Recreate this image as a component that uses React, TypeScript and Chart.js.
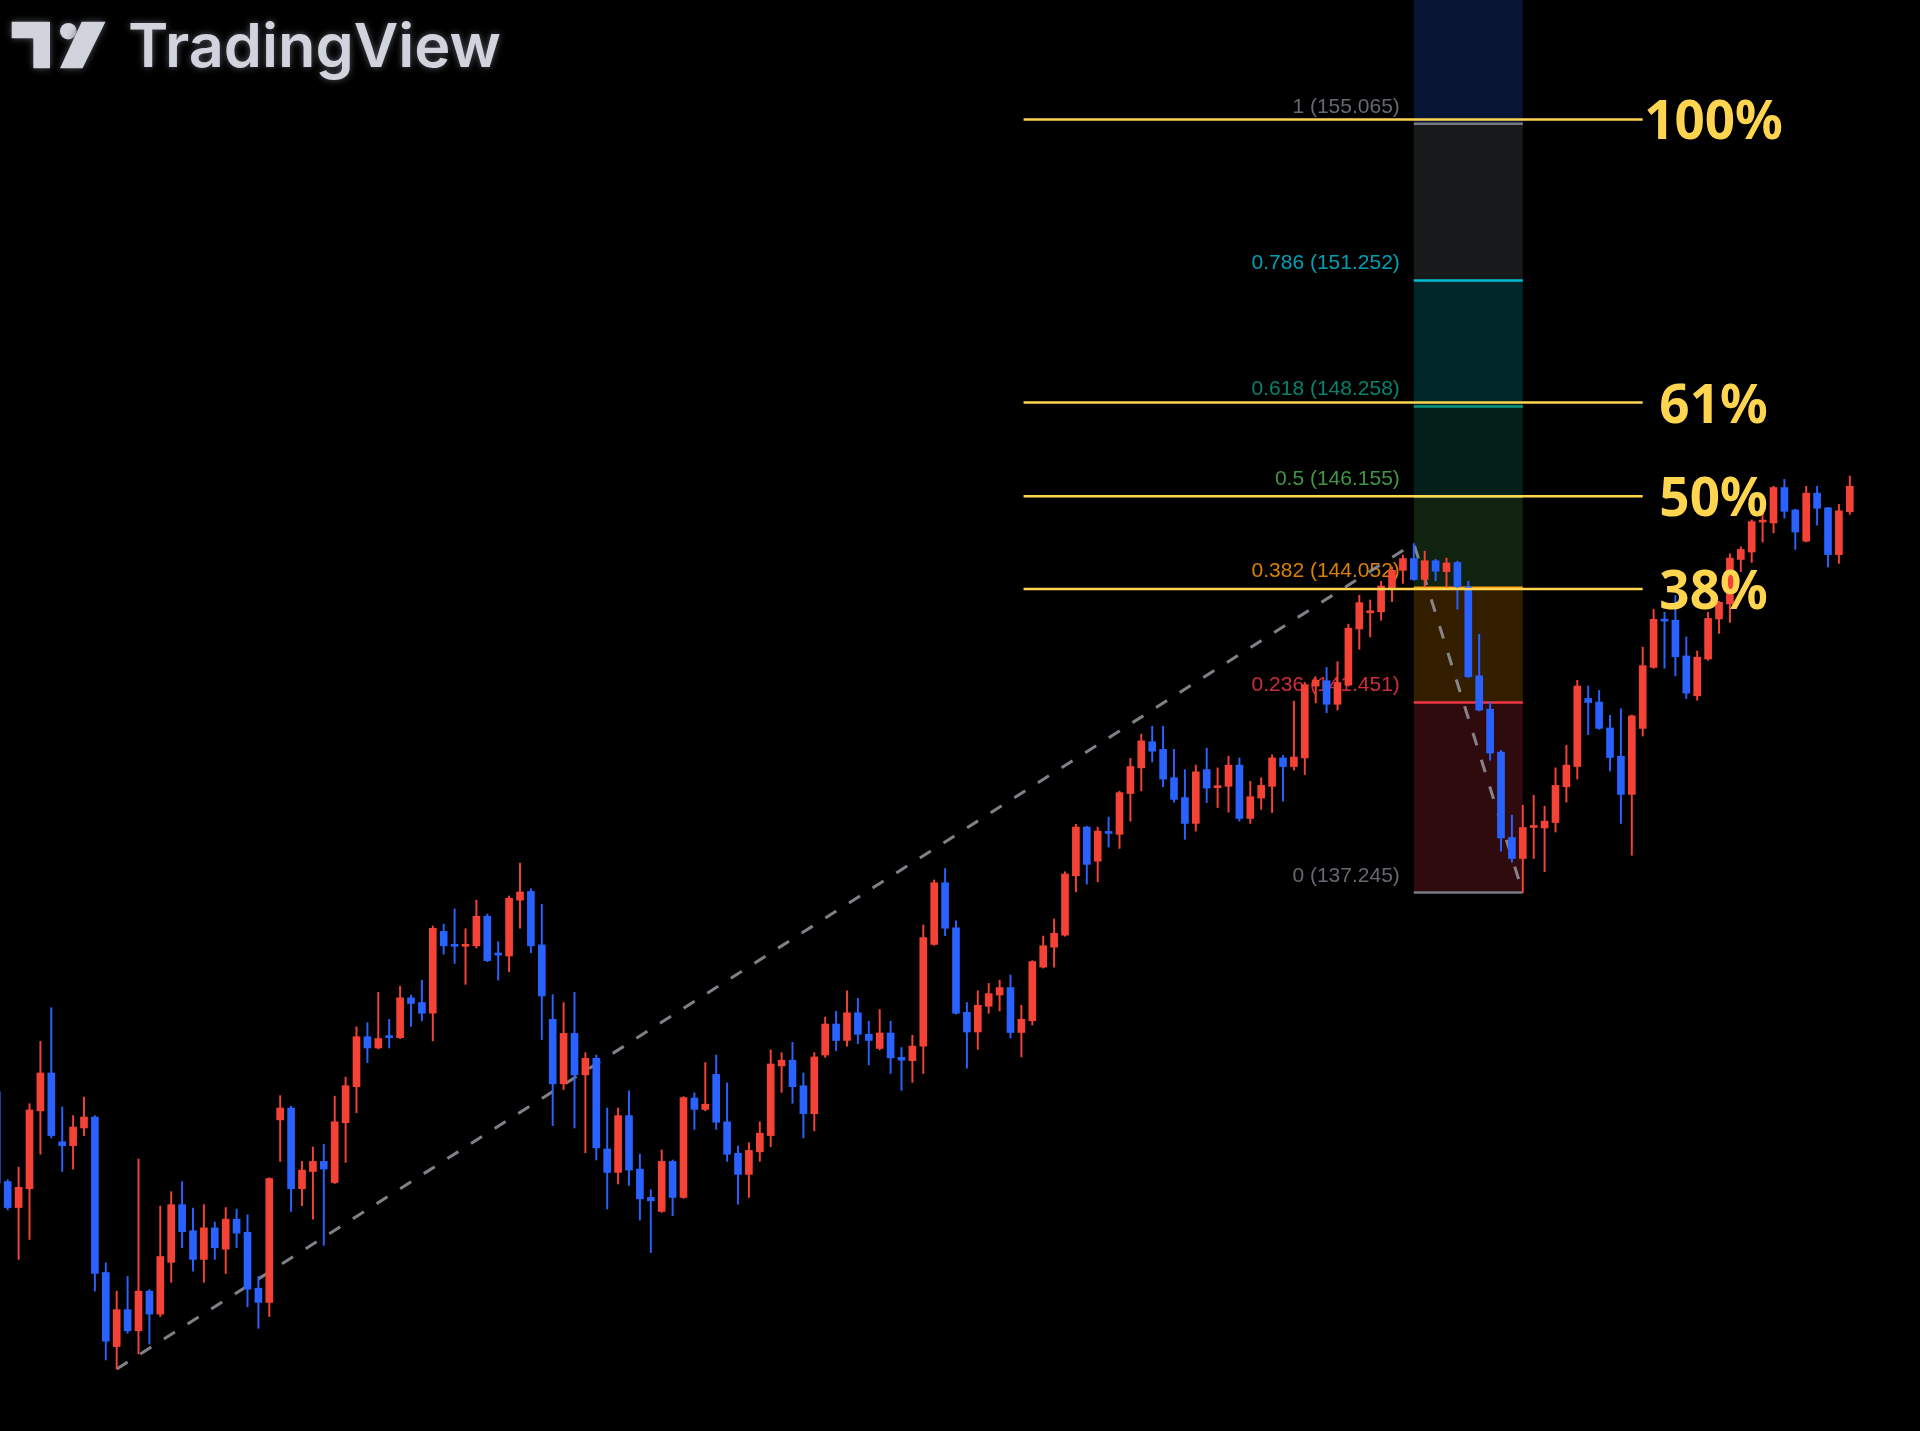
import React, { useEffect, useRef } from 'react';
import { Chart, registerables } from 'chart.js';

Chart.register(...registerables);

// ---- Candle data (price) ----
const opens = [
  132.97, 131.09, 130.55, 130.94, 132.57, 133.37, 131.92, 131.84, 132.21, 132.44,
  129.21, 127.70, 128.45, 128.02, 128.83, 128.36, 129.42, 130.61, 130.07, 129.48,
  130.13, 129.69, 130.31, 130.04, 128.89, 128.60, 132.38, 132.63, 130.94, 131.30,
  131.51, 131.07, 132.32, 133.08, 134.14, 133.90, 134.16, 134.12, 134.97, 134.87,
  134.64, 136.40, 136.11, 136.08, 136.09, 136.73, 135.92, 135.87, 137.08, 137.27,
  136.11, 134.51, 133.14, 134.21, 133.33, 133.68, 131.77, 131.28, 132.47, 131.35,
  130.76, 130.47, 131.51, 130.76, 132.84, 132.60, 133.34, 132.34, 131.68, 131.24,
  131.71, 132.05, 133.52, 133.64, 133.10, 132.51, 133.75, 134.41, 134.06, 134.65,
  134.19, 133.89, 134.22, 133.70, 133.63, 133.94, 136.12, 137.46, 136.48, 134.66,
  134.24, 134.79, 135.03, 135.19, 134.23, 134.48, 135.63, 136.06, 136.32, 137.61,
  138.68, 137.93, 138.57, 138.52, 139.42, 139.99, 140.57, 140.40, 139.77, 139.33,
  138.76, 139.95, 139.55, 139.58, 140.05, 138.87, 139.32, 139.58, 140.21, 140.02,
  140.21, 141.82, 141.94, 141.41, 141.84, 143.11, 143.48, 143.50, 144.04, 144.45,
  144.72, 144.24, 144.67, 144.42, 144.63, 144.07, 142.05, 141.30, 140.34, 138.45,
  137.99, 138.67, 138.66, 138.78, 139.57, 140.02, 141.54, 141.46, 140.88, 140.25,
  139.40, 140.87, 142.24, 143.33, 143.31, 142.50, 141.60, 142.43, 143.34, 143.68,
  144.70, 144.87, 145.56, 145.54, 146.36, 145.84, 145.12, 146.23, 145.89, 144.81,
  145.80,
];
const highs = [
  133.10, 131.13, 131.39, 132.72, 134.04, 134.76, 132.65, 132.47, 132.86, 132.47,
  129.41, 128.83, 129.13, 131.56, 128.86, 130.58, 130.88, 131.09, 130.54, 130.61,
  130.25, 130.55, 130.52, 130.40, 129.13, 131.17, 132.89, 132.67, 131.51, 131.81,
  131.87, 132.88, 133.28, 134.35, 134.44, 135.09, 134.51, 135.22, 135.03, 135.35,
  136.52, 136.56, 136.89, 136.46, 137.08, 136.78, 136.18, 137.17, 137.89, 137.33,
  136.99, 135.04, 134.87, 135.09, 133.80, 133.75, 132.63, 132.63, 132.99, 131.66,
  130.92, 131.75, 131.54, 132.87, 132.95, 133.59, 133.75, 133.16, 131.83, 131.90,
  132.34, 133.86, 133.80, 134.02, 133.37, 133.80, 134.56, 134.68, 135.12, 134.96,
  134.47, 134.72, 134.47, 133.91, 134.17, 136.54, 137.52, 137.77, 136.63, 134.87,
  135.12, 135.28, 135.35, 135.46, 134.81, 135.77, 136.30, 136.67, 137.70, 138.74,
  138.70, 138.68, 138.90, 139.47, 140.20, 140.74, 140.92, 140.92, 140.40, 139.95,
  140.05, 140.43, 139.99, 140.25, 140.21, 139.69, 139.77, 140.28, 140.27, 141.48,
  141.90, 142.00, 142.24, 142.37, 143.22, 143.88, 143.77, 144.20, 144.53, 144.80,
  145.065, 144.89, 144.70, 144.73, 144.66, 144.20, 142.99, 141.46, 140.38, 138.94,
  139.16, 139.38, 139.14, 139.99, 140.49, 141.95, 141.82, 141.72, 141.16, 141.31,
  141.17, 142.70, 143.56, 143.49, 143.87, 142.93, 142.61, 143.49, 143.74, 144.83,
  144.99, 145.61, 145.80, 146.39, 146.55, 145.86, 146.39, 146.39, 145.90, 145.97,
  146.63,
];
const lows = [
  130.71, 130.50, 129.48, 129.89, 131.66, 132.00, 131.30, 131.35, 132.05, 128.83,
  127.43, 127.245, 127.97, 127.55, 127.75, 128.31, 129.01, 129.72, 129.24, 129.01,
  129.48, 129.19, 129.72, 128.51, 128.07, 128.31, 131.51, 130.47, 130.59, 130.31,
  129.77, 131.05, 131.49, 132.53, 133.59, 133.88, 133.90, 134.10, 134.36, 134.48,
  134.05, 135.91, 135.71, 135.26, 136.04, 135.75, 135.35, 135.53, 136.47, 135.94,
  134.08, 132.26, 133.02, 132.21, 131.69, 131.54, 130.52, 131.04, 131.01, 130.29,
  129.62, 130.45, 130.38, 130.74, 132.18, 132.57, 132.18, 131.51, 130.62, 130.76,
  131.51, 131.82, 132.96, 132.73, 132.00, 132.15, 133.70, 133.84, 133.94, 133.99,
  133.54, 133.86, 133.36, 133.00, 133.17, 133.36, 136.10, 136.31, 134.62, 133.47,
  133.87, 134.64, 134.69, 134.11, 133.71, 134.39, 135.61, 135.63, 136.30, 137.26,
  137.43, 137.48, 138.24, 138.21, 138.81, 139.48, 140.12, 139.57, 139.23, 138.41,
  138.59, 139.22, 139.11, 139.01, 138.81, 138.76, 139.07, 139.00, 139.25, 139.94,
  139.84, 141.44, 141.22, 141.28, 141.82, 142.65, 142.93, 143.31, 143.73, 144.15,
  144.22, 144.07, 144.21, 144.07, 143.56, 142.01, 141.26, 140.16, 138.15, 137.91,
  137.245, 137.99, 137.70, 138.57, 139.23, 139.74, 140.73, 140.85, 139.92, 138.76,
  138.06, 140.70, 142.22, 142.22, 142.05, 141.54, 141.50, 142.40, 143.01, 143.26,
  144.42, 144.63, 145.10, 145.31, 145.65, 144.93, 145.10, 145.49, 144.53, 144.61,
  145.74,
];
const closes = [
  131.06, 130.55, 130.97, 132.59, 133.37, 132.05, 131.84, 132.23, 132.44, 129.19,
  127.81, 128.45, 128.02, 128.83, 128.36, 129.54, 130.61, 130.05, 129.48, 130.13,
  129.72, 130.31, 130.02, 128.87, 128.60, 131.15, 132.63, 130.94, 131.33, 131.51,
  131.35, 132.34, 133.10, 134.14, 133.90, 134.10, 134.12, 134.97, 134.85, 134.64,
  136.47, 136.09, 136.08, 136.11, 136.73, 135.77, 135.89, 137.12, 137.26, 136.09,
  135.01, 133.14, 134.21, 133.33, 133.68, 131.79, 131.28, 132.47, 131.33, 130.73,
  130.69, 131.51, 130.76, 132.85, 132.60, 132.71, 132.33, 131.66, 131.24, 131.74,
  132.10, 133.56, 133.64, 133.08, 132.51, 133.71, 134.41, 134.06, 134.65, 134.19,
  134.06, 134.22, 133.69, 133.64, 133.94, 136.27, 137.46, 136.47, 134.64, 134.24,
  134.81, 135.06, 135.19, 134.23, 134.51, 135.75, 136.09, 136.36, 137.65, 138.68,
  137.86, 138.59, 138.54, 139.44, 140.02, 140.59, 140.36, 139.74, 139.29, 138.76,
  139.90, 139.54, 139.58, 140.05, 138.87, 139.35, 139.60, 140.21, 140.02, 140.23,
  141.85, 141.95, 141.41, 141.90, 143.13, 143.71, 143.52, 144.09, 144.45, 144.72,
  144.24, 144.67, 144.43, 144.62, 144.07, 142.03, 141.28, 140.32, 138.44, 137.99,
  138.67, 138.69, 138.81, 139.60, 140.05, 141.82, 141.45, 140.87, 140.22, 139.40,
  141.15, 142.28, 143.33, 143.29, 142.48, 141.66, 142.47, 143.35, 143.72, 144.73,
  144.93, 145.57, 145.58, 146.36, 145.81, 145.33, 146.23, 145.88, 144.81, 145.82,
  146.39,
];

// ---- Trend-based Fibonacci extension (anchor candles: A, B, C) ----
const trendAnchorIndex = [11, 130, 140];
const trendAnchorPrice = [127.245, 145.065, 137.245];

const fibRatios = ['1', '0.786', '0.618', '0.5', '0.382', '0.236', '0'];
const fibPrices = [155.065, 151.252, 148.258, 146.155, 144.052, 141.451, 137.245];
const fibColors = ['#787b86', '#00bcd4', '#089981', '#4caf50', '#ff9800', '#f23645', '#787b86'];
const fibUpperBandColor = '#2962ff';

// ---- Hand-drawn yellow overlay ----
const overlayPrices = [155.17, 148.35, 146.16, 144.02];
const overlayLabels = ['100%', '61%', '50%', '38%'];
const overlayFrom = 94.2;
const overlayTo = 151.0;
const overlayLabelAt = 157.5;

const UP = '#f44336';
const DOWN = '#2962ff';
const YELLOW = '#ffd54f';

function rgba(hex: string, a: number) {
  const n = parseInt(hex.slice(1), 16);
  return `rgba(${(n >> 16) & 255},${(n >> 8) & 255},${n & 255},${a})`;
}

const fibPlugin = {
  id: 'fibPlugin',
  beforeDatasetsDraw(chart: any) {
    const { ctx, chartArea } = chart;
    const xs = chart.scales.x;
    const ys = chart.scales.y;
    const x0 = xs.getPixelForValue(trendAnchorIndex[1]);
    const x1 = xs.getPixelForValue(trendAnchorIndex[2]);
    ctx.save();
    const yTop = ys.getPixelForValue(fibPrices[0]);
    ctx.fillStyle = rgba(fibUpperBandColor, 0.2);
    ctx.fillRect(x0, chartArea.top, x1 - x0, yTop - chartArea.top);
    for (let k = 0; k < fibPrices.length - 1; k++) {
      const ya = ys.getPixelForValue(fibPrices[k]);
      const yb = ys.getPixelForValue(fibPrices[k + 1]);
      ctx.fillStyle = rgba(fibColors[k], 0.2);
      ctx.fillRect(x0, ya, x1 - x0, yb - ya);
    }
    for (let k = 0; k < fibPrices.length; k++) {
      const yy = ys.getPixelForValue(fibPrices[k]);
      ctx.strokeStyle = fibColors[k];
      ctx.lineWidth = 2.5;
      ctx.beginPath();
      ctx.moveTo(x0, yy);
      ctx.lineTo(x1, yy);
      ctx.stroke();
      ctx.font = '21px "Liberation Sans", Arial, sans-serif';
      ctx.textAlign = 'right';
      ctx.textBaseline = 'alphabetic';
      ctx.fillStyle = rgba(fibColors[k], 0.85);
      ctx.fillText(`${fibRatios[k]} (${fibPrices[k].toFixed(3)})`, x0 - 14, yy - 11);
    }
    ctx.restore();
  },
  afterDatasetsDraw(chart: any) {
    const { ctx } = chart;
    const xs = chart.scales.x;
    const ys = chart.scales.y;
    ctx.save();
    const xa = xs.getPixelForValue(overlayFrom);
    const xb = xs.getPixelForValue(overlayTo);
    const xl = xs.getPixelForValue(overlayLabelAt);
    for (let k = 0; k < overlayPrices.length; k++) {
      const yy = ys.getPixelForValue(overlayPrices[k]);
      ctx.strokeStyle = YELLOW;
      ctx.lineWidth = 2.5;
      ctx.beginPath();
      ctx.moveTo(xa, yy);
      ctx.lineTo(xb, yy);
      ctx.stroke();
      ctx.font = 'bold 53px "Noto Sans", sans-serif';
      ctx.textAlign = 'center';
      ctx.textBaseline = 'alphabetic';
      ctx.fillStyle = YELLOW;
      ctx.fillText(overlayLabels[k], xl, yy + 20);
    }
    ctx.restore();

    // TradingView watermark
    ctx.save();
    ctx.shadowColor = 'rgba(95,99,110,0.9)';
    ctx.shadowBlur = 7;
    ctx.fillStyle = '#d1d4dc';
    ctx.beginPath();
    ctx.moveTo(11.7, 21.7);
    ctx.lineTo(50, 21.7);
    ctx.lineTo(50, 68.3);
    ctx.lineTo(33.3, 68.3);
    ctx.lineTo(33.3, 38.3);
    ctx.lineTo(11.7, 38.3);
    ctx.closePath();
    ctx.fill();
    ctx.beginPath();
    ctx.arc(68.3, 31.2, 8.3, 0, Math.PI * 2);
    ctx.fill();
    ctx.beginPath();
    ctx.moveTo(81.7, 21.7);
    ctx.lineTo(105.5, 21.7);
    ctx.lineTo(82.5, 68.3);
    ctx.lineTo(60, 68.3);
    ctx.closePath();
    ctx.fill();
    ctx.font = '600 60px Inter, "Noto Sans", sans-serif';
    ctx.textAlign = 'left';
    ctx.textBaseline = 'alphabetic';
    const w = ctx.measureText('TradingView').width;
    ctx.translate(128, 66.7);
    ctx.scale(373 / w, 1);
    ctx.fillText('TradingView', 0, 0);
    ctx.restore();
  },
};

export default function App() {
  const ref = useRef<HTMLCanvasElement>(null);
  useEffect(() => {
    document.body.style.margin = '0';
    document.body.style.background = '#000';
    const colors = opens.map((o, i) => (closes[i] >= o ? UP : DOWN));
    const wicks = opens.map((_, i) => ({ x: i, y: [lows[i], highs[i]] }));
    const bodies = opens.map((o, i) => ({ x: i, y: [Math.min(o, closes[i]), Math.max(o, closes[i])] }));
    const trend = trendAnchorIndex.map((ix, k) => ({ x: ix, y: trendAnchorPrice[k] }));
    const chart = new Chart(ref.current as HTMLCanvasElement, {
      type: 'bar',
      data: {
        datasets: [
          {
            type: 'line',
            data: trend,
            borderColor: 'rgba(150,152,160,0.85)',
            borderWidth: 3,
            borderDash: [13, 15],
            pointRadius: 0,
            fill: false,
            order: 3,
          } as any,
          {
            data: wicks,
            backgroundColor: colors,
            barThickness: 1.3,
            grouped: false,
            borderWidth: 0,
            order: 2,
          } as any,
          {
            data: bodies,
            backgroundColor: colors,
            barThickness: 7,
            minBarLength: 2,
            grouped: false,
            borderWidth: 0,
            order: 1,
          } as any,
        ],
      },
      options: {
        animation: false,
        responsive: false,
        maintainAspectRatio: false,
        devicePixelRatio: 1,
        layout: { padding: 0 },
        plugins: { legend: { display: false }, tooltip: { enabled: false } },
        scales: {
          x: { type: 'linear', min: 0.294, max: 176.44, display: false, offset: false, grid: { display: false } },
          y: { type: 'logarithmic', min: 126.0, max: 158.14, display: false, grid: { display: false } },
        },
      } as any,
      plugins: [fibPlugin],
    });
    return () => chart.destroy();
  }, []);
  return (
    <div style={{ position: 'absolute', left: 0, top: 0, width: 1920, height: 1431, background: '#000' }}>
      <canvas ref={ref} width={1920} height={1431} style={{ display: 'block' }} />
    </div>
  );
}
